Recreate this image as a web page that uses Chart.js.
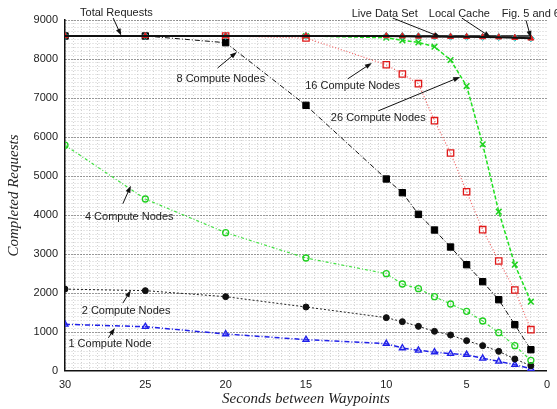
<!DOCTYPE html>
<html>
<head>
<meta charset="utf-8">
<script src="https://cdn.jsdelivr.net/npm/chart.js@4/dist/chart.umd.min.js"></script>
<style>
  html, body { margin: 0; padding: 0; background: #fff; }
  #wrap { width: 557px; height: 409px; }
</style>
</head>
<body>
<div id="wrap"><canvas id="chart" width="557" height="409"></canvas></div>
<script>
// x positions (seconds between waypoints)
const seconds = [30, 25, 20, 15, 10, 9, 8, 7, 6, 5, 4, 3, 2, 1];

// series
const totalRequests = [8590, 8590, 8590, 8590, 8590, 8590, 8590, 8590, 8590, 8590, 8590, 8590, 8590, 8590];
const liveDataSet   = [8590, 8590, 8590, 8590, 8590, 8585, 8580, 8576, 8572, 8570, 8565, 8560, 8547, 8530];
const localCache    = [8590, 8590, 8590, 8590, 8590, 8585, 8580, 8576, 8572, 8570, 8565, 8560, 8547, 8530];
const fig56         = [8590, 8590, 8590, 8590, 8590, 8585, 8580, 8576, 8572, 8570, 8565, 8560, 8547, 8530];
const nodes26 = [null, null, null, 8590, 8546, 8479, 8427, 8315, 7974, 7307, 5813, 4085, 2726, 1777];
const nodes16 = [null, null, 8590, 8538, 7853, 7615, 7367, 6418, 5590, 4597, 3623, 2820, 2077, 1059];
const nodes8  = [8590, 8590, 8418, 6812, 4923, 4572, 4018, 3615, 3179, 2726, 2290, 1828, 1187, 546];
const nodes4  = [5790, 4410, 3547, 2897, 2496, 2231, 2111, 1906, 1718, 1530, 1282, 983, 650, 274];
const nodes2  = [2100, 2060, 1906, 1641, 1368, 1265, 1145, 1017, 923, 778, 650, 504, 308, 137];
const nodes1  = [1197, 1136, 949, 803, 701, 590, 530, 487, 444, 419, 325, 248, 162, 60];

// labels with arrows: text spot, arrow tail, arrow head (data units)
const notes = [
  { text: 'Total Requests',   tx: 26.8, ty: 9180, ax: 27.0, ay: 9050, bx: 26.5, by: 8600 },
  { text: '8 Compute Nodes',  tx: 20.3, ty: 7500, ax: 20.5, ay: 7770, bx: 19.3, by: 8180 },
  { text: '16 Compute Nodes', tx: 12.1, ty: 7300, ax: 12.4, ay: 7490, bx: 10.9, by: 7900 },
  { text: '26 Compute Nodes', tx: 10.5, ty: 6490, ax: 10.5, ay: 6670, bx: 5.4,  by: 7540 },
  { text: 'Live Data Set',    tx: 10.1, ty: 9160, ax: 9.6,  ay: 9050, bx: 6.6,  by: 8560 },
  { text: 'Local Cache',      tx: 5.45, ty: 9160, ax: 5.3,  ay: 9050, bx: 3.5,  by: 8560 },
  { text: 'Fig. 5 and 6',     tx: 1.0,  ty: 9160, ax: 1.3,  ay: 8990, bx: 1.0,  by: 8540 },
  { text: '4 Compute Nodes',  tx: 26.0, ty: 3960, ax: 26.4, ay: 4290, bx: 25.9, by: 4750 },
  { text: '2 Compute Nodes',  tx: 26.2, ty: 1540, ax: 26.4, ay: 1740, bx: 25.9, by: 2070 },
  { text: '1 Compute Node',   tx: 27.2, ty: 690,  ax: 27.3, ay: 850,  bx: 26.9, by: 1100 }
];

const pts = (arr) => seconds.map((s, i) => ({ x: s, y: arr[i] }));

const notesPlugin = {
  id: 'notes',
  afterDatasetsDraw(chart) {
    const ctx = chart.ctx;
    const xs = chart.scales.x, ys = chart.scales.y;
    ctx.save();
    ctx.font = '11px "Liberation Sans", Arial, sans-serif';
    ctx.fillStyle = '#222';
    ctx.strokeStyle = '#111';
    ctx.textAlign = 'center';
    ctx.textBaseline = 'middle';
    notes.forEach(n => {
      ctx.fillText(n.text, xs.getPixelForValue(n.tx), ys.getPixelForValue(n.ty));
      const x0 = xs.getPixelForValue(n.ax), y0 = ys.getPixelForValue(n.ay);
      const x1 = xs.getPixelForValue(n.bx), y1 = ys.getPixelForValue(n.by);
      const ang = Math.atan2(y1 - y0, x1 - x0);
      ctx.lineWidth = 1;
      ctx.beginPath();
      ctx.moveTo(x0, y0);
      ctx.lineTo(x1 - 5 * Math.cos(ang), y1 - 5 * Math.sin(ang));
      ctx.stroke();
      ctx.beginPath();
      ctx.moveTo(x1, y1);
      ctx.lineTo(x1 - 7 * Math.cos(ang) + 2.5 * Math.sin(ang), y1 - 7 * Math.sin(ang) - 2.5 * Math.cos(ang));
      ctx.lineTo(x1 - 7 * Math.cos(ang) - 2.5 * Math.sin(ang), y1 - 7 * Math.sin(ang) + 2.5 * Math.cos(ang));
      ctx.closePath();
      ctx.fillStyle = '#111';
      ctx.fill();
      ctx.fillStyle = '#222';
    });
    ctx.restore();
  }
};

new Chart(document.getElementById('chart'), {
  type: 'line',
  data: {
    datasets: [
      { label: 'Fig. 5 and 6', data: pts(fig56), borderColor: '#111', borderWidth: 2, pointRadius: 0 },
      { label: 'Live Data Set', data: pts(liveDataSet), borderColor: '#e02020', borderWidth: 1, pointStyle: 'triangle',
        pointRadius: 3.5, pointBackgroundColor: '#e02020', pointBorderColor: '#e02020' },
      { label: 'Local Cache', data: pts(localCache), borderColor: '#10c8c8', borderWidth: 1, borderDash: [1, 2],
        pointStyle: 'rectRot', pointRadius: 3.5, pointBackgroundColor: 'rgba(0,0,0,0)', pointBorderColor: '#10c8c8', pointBorderWidth: 1 },
      { label: 'Total Requests', data: pts(totalRequests), borderColor: '#111', borderWidth: 1.5, pointRadius: 0 },
      { label: '8 Compute Nodes', data: pts(nodes8), borderColor: '#111', borderWidth: 1, borderDash: [5, 2, 1, 2],
        pointStyle: 'rect', pointRadius: 4.5, pointBackgroundColor: '#000', pointBorderColor: '#000' },
      { label: '16 Compute Nodes', data: pts(nodes16), borderColor: '#f06060', borderWidth: 1.2, borderDash: [1, 2],
        pointStyle: 'rect', pointRadius: 4.5, pointBackgroundColor: 'rgba(255,255,255,0)', pointBorderColor: '#e01818', pointBorderWidth: 1.3 },
      { label: '26 Compute Nodes', data: pts(nodes26), borderColor: '#20e020', borderWidth: 1.5, borderDash: [4, 2],
        pointStyle: 'crossRot', pointRadius: 4, pointBorderColor: '#20d020', pointBorderWidth: 1.5 },
      { label: '4 Compute Nodes', data: pts(nodes4), borderColor: '#40e040', borderWidth: 1.2, borderDash: [3, 2, 1, 2],
        pointStyle: 'circle', pointRadius: 3, pointBackgroundColor: 'rgba(255,255,255,0)', pointBorderColor: '#20d020', pointBorderWidth: 1.3 },
      { label: '2 Compute Nodes', data: pts(nodes2), borderColor: '#222', borderWidth: 1, borderDash: [2, 2],
        pointStyle: 'circle', pointRadius: 3, pointBackgroundColor: '#111', pointBorderColor: '#111' },
      { label: '1 Compute Node', data: pts(nodes1), borderColor: '#2020e8', borderWidth: 1.5, borderDash: [5, 2, 1, 2],
        pointStyle: 'triangle', pointRadius: 3.5, pointBackgroundColor: 'rgba(80,80,255,0.3)', pointBorderColor: '#2020e8', pointBorderWidth: 1.3 }
    ]
  },
  options: {
    responsive: false,
    animation: false,
    events: [],
    layout: { padding: { top: 20, right: 8, left: 0, bottom: 0 } },
    plugins: { legend: { display: false }, tooltip: { enabled: false } },
    scales: {
      x: {
        type: 'linear',
        reverse: true,
        min: 0, max: 30,
        afterFit: (s) => { s.height = 38; },
        grid: {
          drawTicks: false,
          color: '#d2d2d2',
          lineWidth: (c) => (c.tick && c.tick.value === 0 ? 0 : 1)
        },
        border: { display: true, color: '#111', width: 1.5, dash: [1, 2] },
        ticks: {
          stepSize: 0.5,
          autoSkip: false,
          maxRotation: 0,
          padding: 7,
          color: '#222',
          font: { family: '"Liberation Sans", Arial, sans-serif', size: 11 },
          callback: (v) => (v % 5 === 0 ? String(v) : '')
        },
        title: {
          display: true,
          text: 'Seconds between Waypoints',
          color: '#222',
          padding: { top: 0, bottom: 1 },
          font: { family: '"Liberation Serif", "Times New Roman", serif', size: 15, style: 'italic' }
        }
      },
      y: {
        min: 0, max: 9000,
        afterFit: (s) => { s.width = 65; },
        grid: {
          drawTicks: false,
          color: (c) => (c.tick && c.tick.value % 1000 === 0 ? '#333' : '#cfcfcf'),
          lineWidth: (c) => (c.tick && c.tick.value === 0 ? 0 : 1)
        },
        border: { display: true, color: '#111', width: 1.5, dash: [1, 2] },
        ticks: {
          stepSize: 100,
          autoSkip: false,
          padding: 7,
          color: '#222',
          font: { family: '"Liberation Sans", Arial, sans-serif', size: 11 },
          callback: (v) => (v % 1000 === 0 ? String(v) : '')
        },
        title: {
          display: true,
          text: 'Completed Requests',
          color: '#222',
          padding: { top: 5, bottom: 0 },
          font: { family: '"Liberation Serif", "Times New Roman", serif', size: 15, style: 'italic' }
        }
      }
    }
  },
  plugins: [notesPlugin]
});
</script>
</body>
</html>
